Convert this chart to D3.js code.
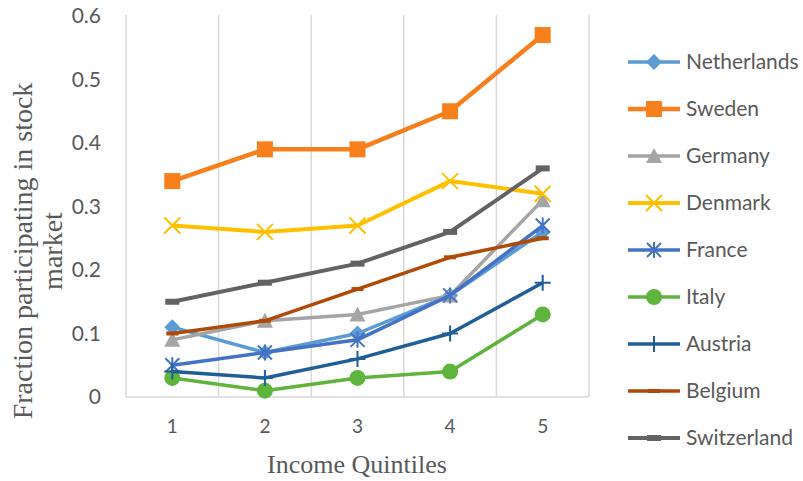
<!DOCTYPE html>
<html><head><meta charset="utf-8">
<script src="https://cdn.jsdelivr.net/npm/d3@7"></script>
<style>body{margin:0;background:#fff;}svg{display:block;}</style>
</head><body>
<script>
const quintiles = [1, 2, 3, 4, 5];
const yTicks = [0, 0.1, 0.2, 0.3, 0.4, 0.5, 0.6];
const countries = ["Netherlands","Sweden","Germany","Denmark","France","Italy","Austria","Belgium","Switzerland"];
const netherlands = [0.11, 0.07, 0.10, 0.16, 0.26];
const sweden      = [0.34, 0.39, 0.39, 0.45, 0.57];
const germany     = [0.09, 0.12, 0.13, 0.16, 0.31];
const denmark     = [0.27, 0.26, 0.27, 0.34, 0.32];
const france      = [0.05, 0.07, 0.09, 0.16, 0.27];
const italy       = [0.03, 0.01, 0.03, 0.04, 0.13];
const austria     = [0.04, 0.03, 0.06, 0.10, 0.18];
const belgium     = [0.10, 0.12, 0.17, 0.22, 0.25];
const switzerland = [0.15, 0.18, 0.21, 0.26, 0.36];
const seriesValues = [netherlands, sweden, germany, denmark, france, italy, austria, belgium, switzerland];

const colors  = ["#5B9BD5","#F77F1C","#A5A5A5","#FFC000","#4472C4","#5EB43C","#1F5E96","#B04A08","#636363"];
const markers = ["diamond","square","triangle","x","asterisk","circle","plus","dash","dashThick"];
const widths  = [3.5, 4.5, 3.5, 4, 3.5, 3.5, 3.5, 3.5, 4];

const W = 803, H = 481;
const svg = d3.select("body").append("svg").attr("width", W).attr("height", H);

const x = d3.scaleBand().domain(quintiles).range([126, 589]);
const y = d3.scaleLinear().domain([0, 0.6]).range([397, 16]);
const cx = d => x(d) + x.bandwidth() / 2;

const SANS = "Lato, 'Open Sans', sans-serif";
const SERIF = "'Liberation Serif', 'Times New Roman', serif";

// vertical gridlines
const edges = quintiles.map(q => x(q)).concat([x.range()[1]]);
svg.append("g").selectAll("line").data(edges).join("line")
  .attr("x1", d => d).attr("x2", d => d).attr("y1", 15).attr("y2", 397)
  .attr("stroke", "#D9D9D9").attr("stroke-width", 1.5);
// bottom axis line
svg.append("line").attr("x1", 126).attr("x2", 589).attr("y1", y(0)).attr("y2", y(0))
  .attr("stroke", "#D9D9D9").attr("stroke-width", 1.5);

// y axis tick labels
const yAxis = d3.axisLeft(y).tickValues(yTicks).tickFormat(d => d === 0 ? "0" : d3.format(".1f")(d)).tickSize(0).tickPadding(0);
const gy = svg.append("g").attr("transform", "translate(101,0)").call(yAxis);
gy.select(".domain").remove();
gy.selectAll("text").attr("font-family", SANS).attr("font-size", 21).attr("fill", "#595959");

// x axis tick labels
const xAxis = d3.axisBottom(x).tickSize(0).tickPadding(0);
const gx = svg.append("g").attr("transform", "translate(0,419)").call(xAxis);
gx.select(".domain").remove();
gx.selectAll("text").attr("font-family", SANS).attr("font-size", 19).attr("fill", "#595959");

// axis titles
svg.append("text").attr("x", 357).attr("y", 473).attr("text-anchor", "middle")
  .attr("font-family", SERIF).attr("font-size", 26).attr("fill", "#595959").text("Income Quintiles");
const yt = svg.append("text").attr("transform", "translate(0,251) rotate(-90)")
  .attr("text-anchor", "middle").attr("font-family", SERIF).attr("font-size", 28).attr("fill", "#595959");
yt.append("tspan").attr("x", 0).attr("y", 32).text("Fraction participating in stock");
yt.append("tspan").attr("x", 0).attr("y", 62).text("market");

function drawMarker(g, type, color, px, py) {
  switch (type) {
    case "diamond":
      g.append("path").attr("d", `M${px},${py-8}L${px+8},${py}L${px},${py+8}L${px-8},${py}Z`).attr("fill", color); break;
    case "square":
      g.append("rect").attr("x", px-8).attr("y", py-8).attr("width", 16).attr("height", 16).attr("fill", color); break;
    case "triangle":
      g.append("path").attr("d", `M${px},${py-8}L${px+8},${py+7}L${px-8},${py+7}Z`).attr("fill", color); break;
    case "x":
      g.append("path").attr("d", `M${px-8},${py-8}L${px+8},${py+8}M${px+8},${py-8}L${px-8},${py+8}`).attr("stroke", color).attr("stroke-width", 2).attr("fill","none"); break;
    case "asterisk":
      g.append("path").attr("d", `M${px-7},${py-7}L${px+7},${py+7}M${px+7},${py-7}L${px-7},${py+7}M${px},${py-8}L${px},${py+8}`).attr("stroke", color).attr("stroke-width", 2).attr("fill","none"); break;
    case "circle":
      g.append("circle").attr("cx", px).attr("cy", py).attr("r", 8).attr("fill", color); break;
    case "plus":
      g.append("path").attr("d", `M${px-8},${py}L${px+8},${py}M${px},${py-8}L${px},${py+8}`).attr("stroke", color).attr("stroke-width", 2).attr("fill","none"); break;
    case "dash":
      g.append("rect").attr("x", px-6).attr("y", py-2).attr("width", 12).attr("height", 4).attr("fill", color); break;
    case "dashThick":
      g.append("rect").attr("x", px-7).attr("y", py-3).attr("width", 14).attr("height", 6).attr("fill", color); break;
  }
}

const line = d3.line().x((d, i) => cx(quintiles[i])).y(d => y(d));
seriesValues.forEach((vals, s) => {
  const g = svg.append("g");
  g.append("path").datum(vals).attr("d", line).attr("fill", "none")
    .attr("stroke", colors[s]).attr("stroke-width", widths[s]).attr("stroke-linejoin", "round");
  vals.forEach((v, i) => drawMarker(g, markers[s], colors[s], cx(quintiles[i]), y(v)));
});

// legend
const legendY = d3.scalePoint().domain(countries).range([62, 438]);
countries.forEach((c, s) => {
  const ly = legendY(c);
  const g = svg.append("g");
  g.append("line").attr("x1", 628).attr("x2", 680).attr("y1", ly).attr("y2", ly)
    .attr("stroke", colors[s]).attr("stroke-width", widths[s]);
  drawMarker(g, markers[s], colors[s], 654, ly);
  g.append("text").attr("x", 686).attr("y", ly).attr("dy", "0.35em")
    .attr("font-family", SANS).attr("font-size", 21).attr("fill", "#595959").text(c);
});
</script>
</body></html>
